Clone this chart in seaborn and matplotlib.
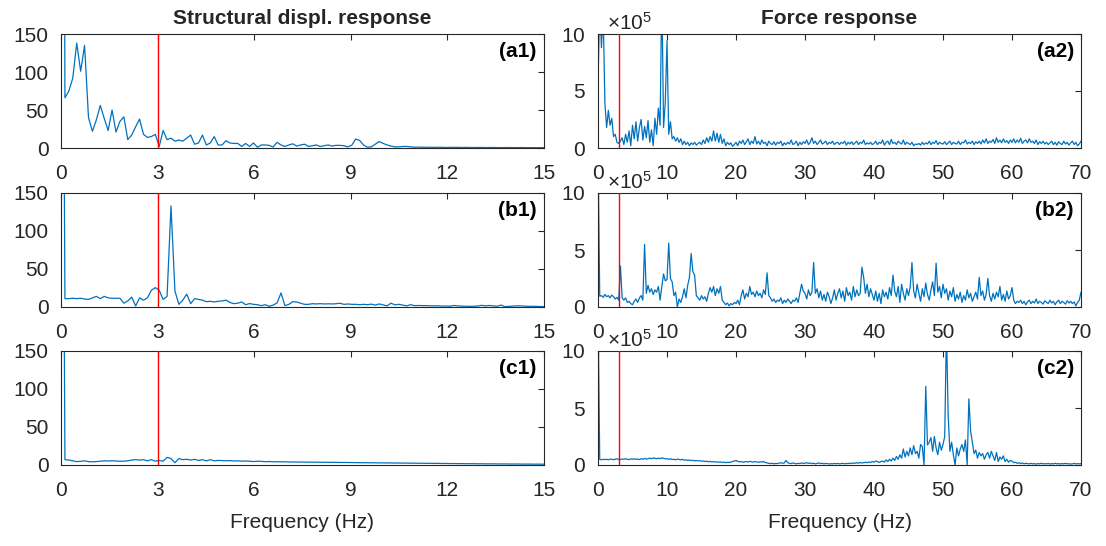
import numpy as np
import matplotlib
matplotlib.use("Agg")
import matplotlib.pyplot as plt
import matplotlib.ticker as mticker
import seaborn as sns

# ---------------- data ----------------
# Structural displacement spectra, frequency step 0.122 Hz (0 .. 15 Hz)
disp_df = 0.122
disp_a1 = [2000, 66, 75, 92, 138, 101, 135, 40, 22, 37,
           56, 39, 23, 50, 21, 35, 41, 11, 17, 28,
           38, 18, 14, 15, 18, 2, 23, 11, 13, 9,
           10.5, 9, 13, 17, 5, 6.6, 17, 4, 6.6, 15,
           4, 4, 9.6, 6.6, 6, 6, 2, 6, 2, 6.6,
           1, 4, 4, 3.5, 1.3, 7.5, 4, 2, 4, 5.5,
           2.5, 4, 5, 2, 3, 4, 2, 3, 4, 2.5,
           3.5, 3.5, 3, 1.5, 3.5, 11.8, 10, 4, 1, 1.5,
           5, 8.5, 6, 4, 2.5, 1.5, 1.5, 2, 2, 1.5,
           1, 1.2, 1, 0.9, 1.0, 0.8, 1.0, 0.9, 0.7, 0.8,
           0.9, 0.8, 0.7, 0.8, 0.7, 0.6, 0.7, 0.7, 0.6, 0.6,
           0.7, 0.6, 0.5, 0.6, 0.6, 0.5, 0.5, 0.6, 0.5, 0.5,
           0.5, 0.4, 0.5, 0.5]
disp_b1 = [1000, 11, 11, 11.5, 11, 11.5, 10.5, 10, 12, 14,
           11, 14, 12, 11.5, 11.5, 11.5, 5, 8, 13, 1.3,
           12, 9, 12, 22, 25.5, 22, 10, 14, 133, 21,
           3.5, 9, 17, 4.4, 11, 10, 9, 7, 7.5, 6.6,
           7.5, 8, 9, 6, 4.4, 5, 6.6, 3, 4.5, 3.5,
           3, 1.8, 3, 0.9, 2.5, 5.3, 18.5, 1.8, 3.5, 7,
           6.5, 5, 3.5, 3.5, 4.4, 4, 4.4, 4, 4.2, 4,
           4.3, 5, 3.5, 4, 3.5, 3.5, 3, 3.5, 3, 3.8,
           2.5, 4, 2.8, 1.5, 5, 2.8, 3.5, 2.5, 1.5, 3,
           1.8, 2, 1.8, 1.8, 1.6, 1.5, 1.6, 1.2, 1.3, 1.0,
           2, 1.5, 1.2, 1.0, 0.8, 1.0, 1.2, 2.2, 1.5, 2,
           1.5, 1.0, 2.5, 0.5, 0.8, 1.2, 1.5, 1.4, 1.2, 0.8,
           1.0, 0.8, 0.6, 0.5]
disp_c1 = [1000, 7, 6.5, 5.5, 4.5, 4.8, 5.5, 4.5, 4.2, 4.5,
           5, 5.5, 5.3, 5.6, 5.2, 5, 5, 5.5, 6.5, 7,
           6.5, 7, 5.5, 7, 5, 6, 5, 10, 8.5, 3,
           8.5, 7, 7.5, 6.5, 7.5, 6, 7, 5.5, 7, 5.5,
           6, 5.8, 5.5, 5.8, 5.3, 5.5, 5, 5.3, 5, 4.5,
           5, 4.8, 4.3, 4.6, 4.2, 4.3, 4.2, 4.1, 4.0, 4.0,
           3.9, 3.9, 3.8, 3.8, 3.7, 3.7, 3.6, 3.6, 3.5, 3.5,
           3.4, 3.4, 3.3, 3.3, 3.2, 3.1, 3.1, 3.0, 3.0, 2.9,
           2.9, 2.8, 2.8, 2.7, 2.7, 2.6, 2.6, 2.5, 2.5, 2.4,
           2.4, 2.3, 2.3, 2.2, 2.2, 2.1, 2.1, 2.0, 2.0, 1.9,
           1.9, 1.8, 1.8, 1.7, 1.7, 1.7, 1.6, 1.6, 1.5, 1.5,
           1.5, 1.4, 1.4, 1.4, 1.3, 1.3, 1.3, 1.2, 1.2, 1.2,
           1.1, 1.1, 1.1, 1.0]

# Force spectra in units of 1e5, frequency step 0.25 Hz (0 .. 70 Hz)
force_df = 0.25
force_unit = 1e5
force_a2 = [
    5.5, 13, 8.8, 12, 3.9, 1.8, 3.3, 2.0, 2.6, 1.0, 1.2, 0.5, 0.4, 0.6, 0.9, 0.3, 1.2, 0.5, 1.5, 0.2,
    2.0, 0.8, 2.3, 0.6, 1.8, 2.5, 0.7, 1.9, 0.9, 2.4, 0.5, 1.6, 0.2, 2.6, 1.2, 3.5, 2.0, 14, 1.8, 4.0,
    9.4, 1.2, 2.3, 0.8, 1.0, 0.6, 0.9, 0.5, 0.8, 0.3, 0.6, 0.3, 0.5, 0.2, 0.45, 0.3, 0.5, 0.25, 0.4, 0.5,
    0.3, 0.7, 0.4, 0.9, 0.5, 1.0, 0.6, 1.5, 0.6, 1.3, 0.5, 1.2, 0.4, 0.8, 0.2, 0.5, 0.3, 0.45, 0.15, 0.3,
    0.5, 0.2, 0.6, 0.4, 0.7, 0.3, 0.55, 0.8, 0.3, 0.6, 0.4, 1.0, 0.35, 0.6, 0.3, 0.7, 0.4, 0.5, 0.2, 0.6,
    0.4, 0.3, 0.55, 0.25, 0.5, 0.4, 0.6, 0.2, 0.45, 0.3, 0.5, 0.35, 0.7, 0.3, 0.4, 0.6, 0.2, 0.5, 0.3, 0.55,
    0.4, 0.7, 0.3, 0.5, 0.9, 0.4, 0.6, 0.3, 0.5, 0.7, 0.35, 0.45, 0.6, 0.3, 0.5, 0.4, 0.6, 0.3, 0.45, 0.5,
    0.3, 0.5, 0.4, 0.6, 0.25, 0.5, 0.35, 0.55, 0.3, 0.45, 0.6, 0.3, 0.5, 0.4, 0.7, 0.3, 0.45, 0.35, 0.5, 0.3,
    0.4, 0.6, 0.3, 0.5, 0.4, 0.7, 0.25, 0.5, 0.6, 0.3, 0.75, 0.4, 0.5, 0.3, 0.6, 0.45, 0.35, 0.7, 0.3, 0.5,
    0.4, 0.3, 0.5, 0.2, 0.35, 0.3, 0.4, 0.25, 0.5, 0.3, 0.45, 0.35, 0.6, 0.3, 0.5, 0.4, 0.65, 0.3, 0.5, 0.4,
    0.35, 0.55, 0.3, 0.45, 0.6, 0.3, 0.5, 0.4, 0.35, 0.6, 0.3, 0.5, 0.45, 0.7, 0.35, 0.5, 0.4, 0.6, 0.3, 0.55,
    0.4, 0.6, 0.35, 0.7, 0.45, 0.8, 0.4, 0.6, 0.5, 0.75, 0.4, 0.9, 0.5, 0.7, 0.45, 0.8, 0.5, 0.65, 0.4, 0.7,
    0.5, 0.8, 0.45, 0.7, 0.5, 0.85, 0.4, 0.6, 0.7, 0.45, 0.8, 0.5, 0.6, 0.4, 0.7, 0.3, 0.55, 0.4, 0.6, 0.35,
    0.5, 0.3, 0.45, 0.6, 0.3, 0.5, 0.25, 0.55, 0.4, 0.3, 0.6, 0.35, 0.5, 0.25, 0.45, 0.6, 0.3, 0.5, 0.2, 0.35,
    0.6]
force_b2 = [
    14, 0.95, 1.0, 0.85, 1.1, 0.9, 1.0, 0.8, 1.05, 0.9, 0.7, 0.85, 0.6, 3.6, 0.8, 0.6, 0.8, 0.4, 0.5, 0.3,
    0.2, 0.5, 0.7, 0.4, 0.8, 1.0, 0.6, 5.5, 1.2, 1.9, 1.3, 1.6, 1.1, 1.5, 1.3, 1.8, 0.6, 1.8, 2.9, 2.3,
    2.4, 5.6, 2.5, 2.2, 1.0, 1.3, 0.0, 0.7, 0.4, 0.9, 1.6, 0.8, 1.9, 2.6, 4.7, 3.1, 2.8, 1.0, 0.8, 0.6,
    1.0, 0.7, 0.9, 0.5, 1.2, 1.7, 1.3, 1.8, 1.0, 1.6, 1.2, 1.8, 0.6, 0.4, 0.2, 0.35, 0.1, 0.3, 0.2, 0.4,
    0.3, 0.6, 0.2, 1.0, 1.5, 0.7, 1.2, 0.9, 1.8, 1.1, 1.3, 0.9, 1.4, 1.0, 1.2, 0.8, 1.5, 1.1, 3.0, 1.0,
    0.8, 0.5, 0.7, 0.4, 0.6, 0.5, 0.8, 0.3, 0.6, 0.4, 0.7, 0.5, 0.3, 0.6, 0.5, 0.8, 0.4, 1.2, 2.0, 1.4,
    1.2, 0.7, 1.5, 1.0, 1.3, 3.9, 1.2, 1.6, 0.8, 1.4, 0.6, 1.1, 0.5, 1.3, 0.9, 0.3, 0.8, 1.5, 0.6, 1.2,
    1.6, 0.8, 1.4, 0.5, 1.7, 1.0, 1.3, 0.6, 1.8, 0.9, 1.5, 1.0, 1.2, 3.5, 2.6, 1.2, 2.0, 0.9, 1.6, 1.1,
    0.6, 1.4, 0.5, 1.2, 0.3, 1.5, 0.9, 1.3, 0.7, 1.7, 1.0, 2.8, 1.4, 0.9, 1.8, 0.4, 2.0, 1.2, 0.6, 1.6,
    1.0, 1.8, 3.9, 1.4, 0.8, 2.0, 1.2, 0.5, 1.6, 0.9, 2.1, 1.1, 0.6, 1.5, 2.2, 1.0, 3.85, 1.3, 1.8, 0.8,
    2.0, 1.2, 1.6, 0.6, 1.4, 0.9, 1.7, 0.5, 1.1, 0.7, 1.3, 0.4, 1.0, 0.6, 1.5, 0.8, 1.2, 0.5, 0.9, 1.3,
    0.7, 2.6, 1.0, 1.4, 0.6, 1.1, 2.5, 1.0, 0.5, 1.2, 0.7, 1.3, 0.9, 1.8, 0.6, 1.1, 0.5, 1.4, 0.7, 1.0,
    1.7, 0.6, 0.3, 0.5, 0.4, 0.6, 0.3, 0.5, 0.2, 0.45, 0.6, 0.3, 0.5, 0.35, 0.7, 0.3, 0.5, 0.4, 0.25, 0.55,
    0.4, 0.3, 0.6, 0.35, 0.5, 0.2, 0.45, 0.6, 0.3, 0.5, 0.4, 0.25, 0.55, 0.35, 0.5, 0.3, 0.45, 0.1, 0.4, 0.6,
    1.3]
force_c2 = [
    14, 0.5, 0.45, 0.5, 0.48, 0.5, 0.45, 0.52, 0.5, 0.47, 0.5, 0.55, 0.48, 0.5, 0.52, 0.5, 0.55, 0.5, 0.48, 0.53,
    0.5, 0.55, 0.5, 0.52, 0.48, 0.55, 0.5, 0.58, 0.52, 0.55, 0.6, 0.55, 0.62, 0.58, 0.55, 0.6, 0.56, 0.62, 0.58, 0.55,
    0.55, 0.5, 0.55, 0.48, 0.5, 0.45, 0.52, 0.48, 0.45, 0.5, 0.42, 0.45, 0.4, 0.44, 0.38, 0.42, 0.36, 0.4, 0.35, 0.38,
    0.33, 0.36, 0.3, 0.34, 0.28, 0.32, 0.27, 0.3, 0.25, 0.28, 0.24, 0.27, 0.22, 0.25, 0.2, 0.24, 0.22, 0.26, 0.3, 0.34,
    0.4, 0.32, 0.28, 0.3, 0.25, 0.28, 0.3, 0.26, 0.32, 0.28, 0.25, 0.3, 0.27, 0.24, 0.28, 0.26, 0.3, 0.22, 0.18, 0.15,
    0.12, 0.15, 0.1, 0.14, 0.12, 0.16, 0.2, 0.15, 0.18, 0.4, 0.2, 0.15, 0.12, 0.18, 0.14, 0.1, 0.15, 0.12, 0.18, 0.14,
    0.16, 0.2, 0.14, 0.18, 0.12, 0.15, 0.1, 0.14, 0.18, 0.12, 0.16, 0.1, 0.14, 0.12, 0.09, 0.12, 0.1, 0.14, 0.11, 0.13,
    0.1, 0.12, 0.15, 0.1, 0.14, 0.12, 0.16, 0.13, 0.18, 0.15, 0.2, 0.16, 0.22, 0.18, 0.2, 0.24, 0.2, 0.26, 0.22, 0.3,
    0.25, 0.35, 0.3, 0.22, 0.3, 0.35, 0.25, 0.45, 0.3, 0.5, 0.35, 0.6, 0.4, 0.75, 0.5, 0.9, 0.6, 1.4, 0.7, 1.2,
    0.8, 1.5, 0.9, 1.7, 1.0, 1.2, 0.6, 1.8, 1.6, 0.0, 6.9, 1.75, 2.0, 2.4, 1.2, 2.5, 1.5, 0.9, 2.0, 1.3,
    1.8, 2.5, 12, 4.3, 1.2, 2.0, 0.9, 0.0, 1.5, 0.8, 1.4, 1.8, 1.2, 2.2, 0.0, 5.8, 3.0, 2.0, 1.0, 1.3,
    0.6, 1.1, 0.8, 1.0, 0.5, 0.9, 1.1, 0.6, 1.2, 0.8, 0.4, 1.1, 0.3, 0.7, 0.5, 0.8, 0.3, 0.5, 0.25, 0.4,
    0.35, 0.2, 0.25, 0.15, 0.2, 0.12, 0.18, 0.1, 0.15, 0.12, 0.1, 0.14, 0.1, 0.12, 0.08, 0.12, 0.1, 0.15, 0.1, 0.12,
    0.1, 0.14, 0.08, 0.12, 0.1, 0.15, 0.1, 0.12, 0.09, 0.13, 0.1, 0.15, 0.1, 0.12, 0.08, 0.1, 0.14, 0.1, 0.12, 0.1,
    0.12]

cutoff_freq = 3.0
disp_xticks = [0, 3, 6, 9, 12, 15]
disp_yticks = [0, 50, 100, 150]
force_xticks = [0, 10, 20, 30, 40, 50, 60, 70]
force_yticks = [0, 5e5, 10e5]
panel_labels = [["(a1)", "(a2)"], ["(b1)", "(b2)"], ["(c1)", "(c2)"]]
col_titles = ["Structural displ. response", "Force response"]
xlabel = "Frequency (Hz)"

# ---------------- style ----------------
sns.set_style("white")
plt.rcParams["font.family"] = ["Liberation Sans", "DejaVu Sans"]
plt.rcParams["mathtext.fontset"] = "custom"
plt.rcParams["mathtext.rm"] = "Liberation Sans"
plt.rcParams["mathtext.it"] = "Liberation Sans:italic"
plt.rcParams["mathtext.bf"] = "Liberation Sans:bold"

LINE = "#0072BD"
AXC = "#262626"
FS = 15

fig = plt.figure(figsize=(11.06, 5.46), dpi=100)
W, H = 1106, 546
col_left = [61, 598]
ax_w = 483
row_top = [34, 193, 351]
ax_h = 114

disp_series = [disp_a1, disp_b1, disp_c1]
force_series = [force_a2, force_b2, force_c2]

for r in range(3):
    for c in range(2):
        ax = fig.add_axes([col_left[c] / W, (H - row_top[r] - ax_h) / H, ax_w / W, ax_h / H])
        if c == 0:
            vals = np.asarray(disp_series[r], dtype=float)
            freq = np.arange(len(vals)) * disp_df
            sns.lineplot(x=freq, y=vals, ax=ax, color=LINE, lw=0.9, estimator=None, sort=False)
            ax.set_xlim(0, 15)
            ax.set_ylim(0, 150)
            ax.set_xticks(disp_xticks)
            ax.set_yticks(disp_yticks)
        else:
            vals = np.asarray(force_series[r], dtype=float) * force_unit
            freq = np.arange(len(vals)) * force_df
            sns.lineplot(x=freq, y=vals, ax=ax, color=LINE, lw=0.9, estimator=None, sort=False)
            ax.set_xlim(0, 70)
            ax.set_ylim(0, 10e5)
            ax.set_xticks(force_xticks)
            ax.set_yticks(force_yticks)
            fmt = mticker.ScalarFormatter(useMathText=True)
            fmt.set_powerlimits((5, 5))
            ax.yaxis.set_major_formatter(fmt)
            off = ax.yaxis.get_offset_text()
            off.set_fontsize(FS)
            off.set_color(AXC)
            off.set_x(0.018)
        ax.axvline(cutoff_freq, color="#FF0000", lw=1.0, zorder=3)
        ax.tick_params(direction="in", top=True, right=True, length=4, width=0.8,
                       labelsize=FS, colors=AXC)
        ax.tick_params(axis="x", pad=11.5)
        ax.tick_params(axis="y", pad=9)
        for s in ax.spines.values():
            s.set_color(AXC)
            s.set_linewidth(0.8)
            s.set_visible(True)
        ax.set_xlabel("")
        ax.set_ylabel("")
        ax.text(0.985, 0.93, panel_labels[r][c], transform=ax.transAxes, ha="right", va="top",
                fontsize=FS, fontweight="bold", color="black")
        if r == 0:
            ax.set_title(col_titles[c], fontsize=FS, fontweight="bold", pad=7)
        if r == 2:
            ax.set_xlabel(xlabel, fontsize=FS, color=AXC, labelpad=9.5)

fig.savefig("out.png", dpi=100)
